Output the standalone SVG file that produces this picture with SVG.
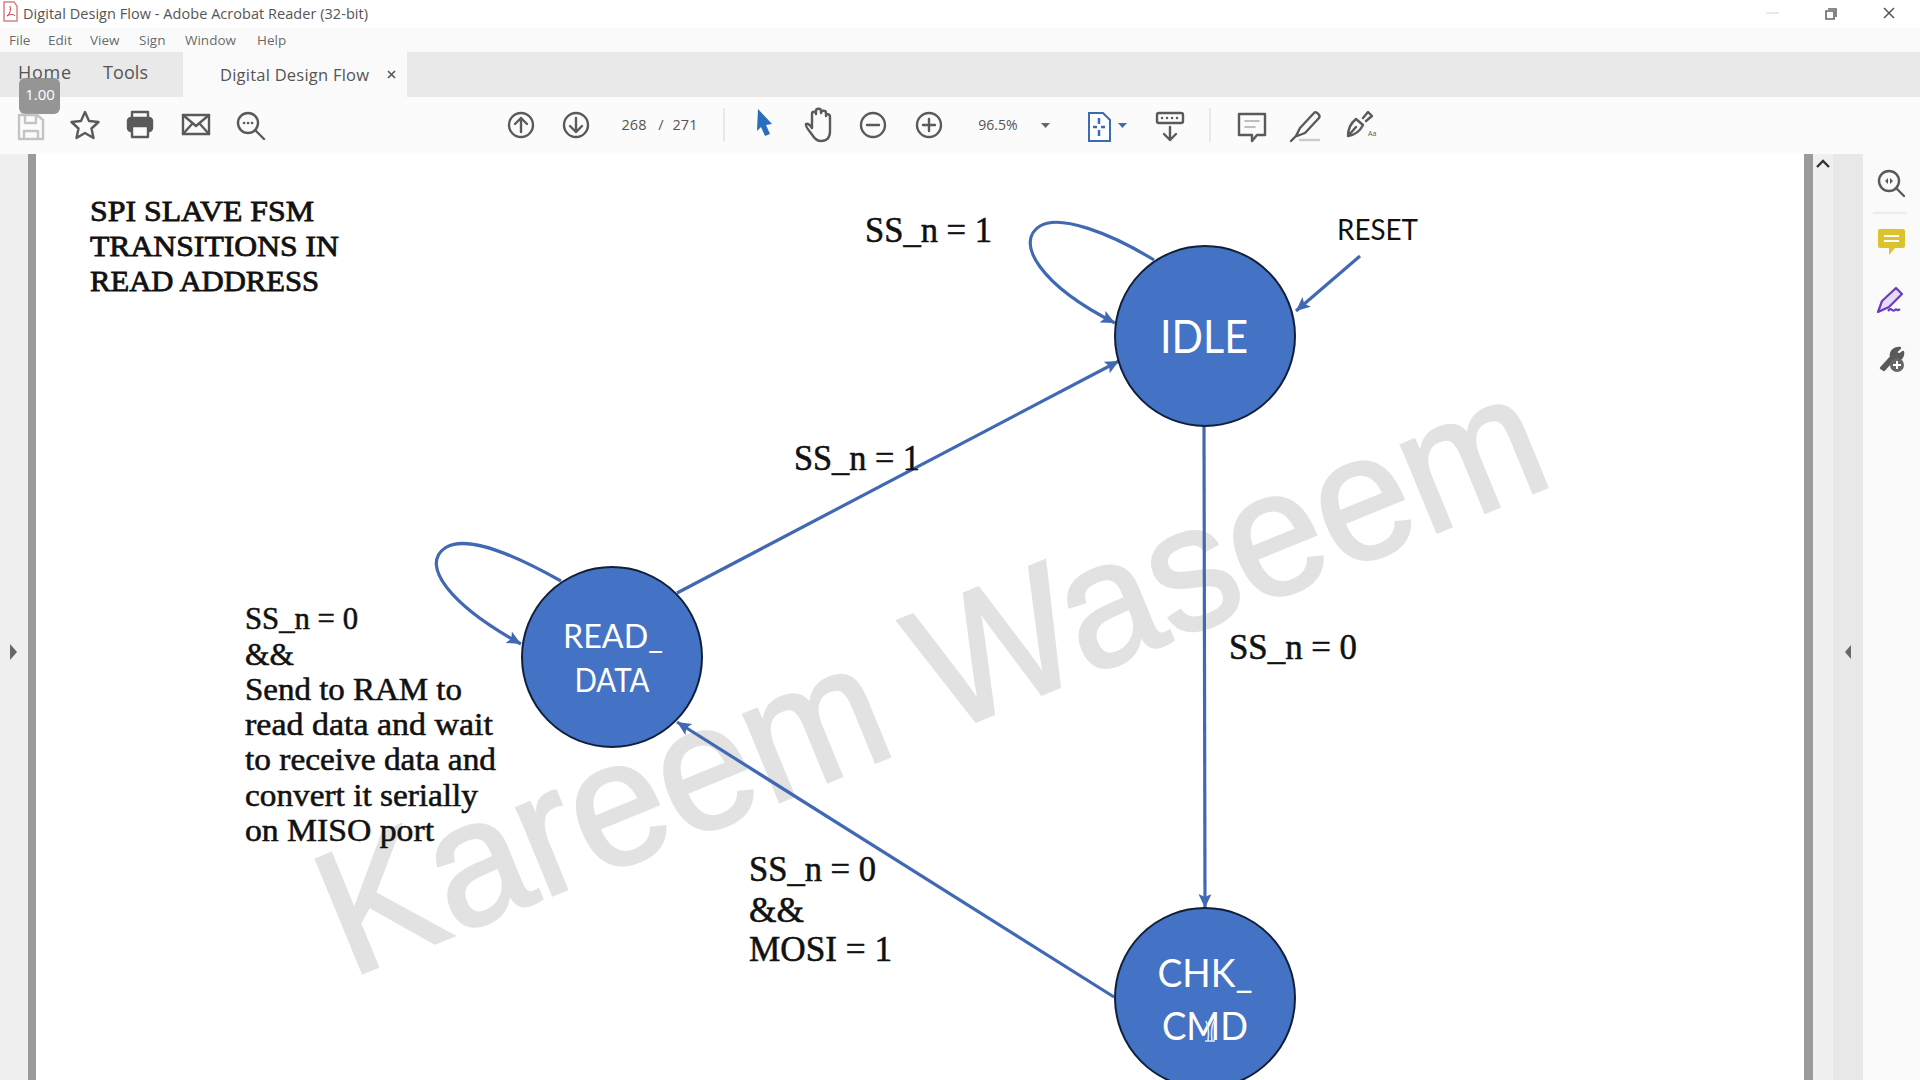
<svg xmlns="http://www.w3.org/2000/svg" width="1920" height="1080" viewBox="0 0 1920 1080">
<style>
.ui{font-family:"Open Sans","Noto Sans",sans-serif;fill:#555}
.pal{font-family:"Liberation Serif",serif;fill:#111;stroke:#111;stroke-width:.55}
.ttl{font-size:30px;stroke-width:.8}
.lbl{font-size:36px}
.body{font-size:31px}
.st{fill:#4472c4;stroke:#10203a;stroke-width:2}
.nt{font-family:Lato,"Open Sans",sans-serif;fill:#fff;text-anchor:middle}
.c{fill:none;stroke:#4169b3;stroke-width:3.2}
.i{fill:none;stroke:#5a5a5a;stroke-width:2.4;stroke-linecap:round;stroke-linejoin:round}
</style>
<defs>
<marker id="a" markerUnits="userSpaceOnUse" markerWidth="16" markerHeight="14" refX="14" refY="6.5" orient="auto"><path d="M0 0L14 6.5L0 13L3 6.5Z" fill="#4169b3"/></marker>
</defs>
<rect width="1920" height="1080" fill="#fff"/>
<g id="chrome">
<rect y="28" width="1920" height="24" fill="#fafafa"/>
<rect y="52" width="1920" height="45" fill="#e9e9e9"/>
<rect x="183" y="52" width="224" height="45" fill="#fafafa"/>
<rect y="97" width="1920" height="57" fill="#fbfbfb"/>
<rect y="154" width="28" height="926" fill="#efefef"/>
<rect x="28" y="154" width="8" height="926" fill="#9b9b9b"/>
<rect x="1804" y="154" width="9" height="926" fill="#9b9b9b"/>
<rect x="1813" y="154" width="20" height="926" fill="#f0f0f0"/>
<rect x="1833" y="154" width="30" height="926" fill="#e8e8e8"/>
<rect x="1863" y="154" width="57" height="926" fill="#fafafa"/>
<path d="M10 644L17 652L10 660Z" fill="#666"/>
<path d="M1851 645L1845 652L1851 659Z" fill="#666"/>
<path d="M1817 167L1823 161L1829 167" fill="none" stroke="#333" stroke-width="2.4"/>
<path d="M4 2h10l3 4v15H4Z" fill="#fff" stroke="#d8808a" stroke-width="1.5"/>
<path d="M7 16c3-2 4-6 3-10M7 16c3-2 7-2 8 0" fill="none" stroke="#c8303a" stroke-width="1"/>
<text class="ui" x="23" y="19" font-size="14.5" textLength="345">Digital Design Flow - Adobe Acrobat Reader (32-bit)</text>
<text class="ui" font-size="13.5" y="45" fill-opacity=".9"><tspan x="9">File</tspan><tspan x="48">Edit</tspan><tspan x="90">View</tspan><tspan x="139">Sign</tspan><tspan x="185">Window</tspan><tspan x="257">Help</tspan></text>
<text class="ui" x="18" y="79" font-size="18" textLength="53">Home</text>
<text class="ui" x="103" y="79" font-size="18" textLength="45">Tools</text>
<text class="ui" x="220" y="81" font-size="16.5" textLength="149">Digital Design Flow</text>
<path d="M388 71l7 7M395 71l-7 7" stroke="#555" stroke-width="1.6"/>
<rect x="19" y="78" width="41" height="36" rx="6" fill="#8c8c8c" fill-opacity=".92"/>
<text x="40" y="100" font-family="Open Sans,sans-serif" font-size="15" fill="#fff" text-anchor="middle">1.00</text>
<path d="M1766 13h13" stroke="#ddd" stroke-width="1.2"/>
<path d="M1826 11h8v8h-8ZM1828 9h8v8" fill="none" stroke="#666" stroke-width="1.6"/>
<path d="M1884 8l10 10M1894 8l-10 10" stroke="#555" stroke-width="1.5"/>
<g class="i">
<path d="M19 115h18l6 5v19H19ZM25 115v8h11v-8M24 139v-8h14v8" stroke="#c4c4c4"/>
<path d="M85 112l4 9 9.500 1-7 6.500 2 9.500-8.500-5-8.500 5 2-9.500-7-6.500 9.500-1Z"/>
<rect x="128" y="118" width="24" height="13" rx="3" fill="#5a5a5a"/>
<rect x="132" y="112" width="16" height="7"/>
<rect x="132" y="126" width="16" height="11" fill="#fbfbfb"/>
<rect x="183" y="115" width="26" height="19"/>
<path d="M183 115l13 11 13-11M183 134l9-10M209 134l-9-10"/>
<circle cx="248" cy="123" r="10"/><path d="M255 130l9 9"/>
<path d="M244 123h.1M248 123h.1M252 123h.1" stroke-width="2.6"/>
<circle cx="521" cy="125" r="12"/><path d="M521 132v-14M515 124l6-6 6 6"/>
<circle cx="576" cy="125" r="12"/><path d="M576 118v14M570 126l6 6 6-6"/>
<path d="M813 136c-4-6-8-9-7-12 2-1 4 1 6 4v-14c0-3 4-3 4 0v-3c0-3 5-3 5 0v2c0-3 5-3 5 0v3c0-3 4-2 4 1v14c0 8-4 10-9 10-4 0-6-2-8-5Z"/>
<circle cx="873" cy="125" r="12"/><path d="M867 125h12"/>
<circle cx="929" cy="125" r="12"/><path d="M923 125h12M929 119v12"/>
<rect x="1157" y="113" width="26" height="10" rx="2"/>
<path d="M1162 118h.1M1167 118h.1M1172 118h.1M1177 118h.1M1170 127v13M1164 134l6 6 6-6"/>
<path d="M1239 114h26v21h-8l-5 6v-6h-13Z"/><path d="M1245 121h14M1245 127h10" stroke-width="1.6" stroke="#aaa"/>
<path d="M1296 136l4-8 14-15c2-2 7 2 5 5l-14 15-8 3ZM1291 141l5-5"/><path d="M1300 140h19" stroke="#ccc"/>
<path d="M1348 136c0-8 3-13 8-17l7 6c-3 6-8 10-15 11ZM1363 118l5-6 4 4-6 5M1356 127l-8 9"/>
<circle cx="1889" cy="181" r="10"/><path d="M1896 188l8 8"/>
<path d="M1885 181l3-3v6ZM1893 181l-3-3v6Z" fill="#5a5a5a" stroke="none"/>
<path d="M1881 368l10-11c-1-5 3-10 9-9l-4 4 3 3 4-3c1 6-5 10-10 8l-9 10Z" fill="#5a5a5a"/>
</g>
<text x="1368" y="136" font-family="Open Sans,sans-serif" font-size="7" fill="#555">Aa</text>
<circle cx="1897" cy="365" r="7" fill="#666"/>
<path d="M1893 365h8M1897 361v8" stroke="#fff" stroke-width="2"/>
<path d="M758 109l14 15-6 1 4 9-5 2-4-9-4 4Z" fill="#2a6ebb"/>
<text class="ui" x="634" y="130" font-size="14.5" text-anchor="middle" fill="#777">268</text>
<text class="ui" x="661" y="130" font-size="14.5" text-anchor="middle" fill="#666">/</text>
<text class="ui" x="685" y="130" font-size="14.5" text-anchor="middle" fill="#666">271</text>
<path d="M724 108v34M1210 108v34" stroke="#ddd" stroke-width="1.2"/>
<text class="ui" x="998" y="130" font-size="14" text-anchor="middle" fill="#777">96.5%</text>
<path d="M1041 123h9l-4.500 5Z" fill="#666"/>
<path d="M1089 113h14l7 7v21h-21Z" fill="#fff" stroke="#3a6cb5" stroke-width="2"/>
<path d="M1099 118v6M1099 130v6M1093 127h4M1101 127h4" stroke="#3a6cb5" stroke-width="2.500"/>
<path d="M1118 123h9l-4.500 5Z" fill="#3a6cb5"/>
<path d="M1873 213h34" stroke="#ddd" stroke-width="1.200"/>
<path d="M1880 229h23a2 2 0 0 1 2 2v15a2 2 0 0 1-2 2h-8l-6 7v-7h-9a2 2 0 0 1-2-2v-15a2 2 0 0 1 2-2Z" fill="#dcc32b"/>
<path d="M1884 236h15M1884 241h15" stroke="#fff" stroke-width="2"/>
<path d="M1878 312l4-11 14-13 6 6-13 13-11 5ZM1888 311c4-5 4 2 7-1 2-2 2 2 5-1" fill="#e4dcf5" stroke="#6a3cc0" stroke-width="2.200" stroke-linejoin="round"/>
</g>
<g id="watermark"><text x="350" y="978" transform="rotate(-22.300 350 978)" font-family="Liberation Sans,sans-serif" font-size="178" fill="#e2e2e2" stroke="#e2e2e2" stroke-width="3" textLength="1305" lengthAdjust="spacingAndGlyphs">Kareem Waseem</text></g>
<g id="connectors">
<path class="c" marker-end="url(#a)" d="M1154 260C1110 233 1060 214 1040 226C1014 242 1040 285 1115 323"/>
<path class="c" marker-end="url(#a)" d="M1360 256L1296 311"/>
<path class="c" marker-end="url(#a)" d="M677 593L1119 361"/>
<path class="c" marker-end="url(#a)" d="M1204 426L1205 908"/>
<path class="c" marker-end="url(#a)" d="M1114 997L677 722"/>
<path class="c" marker-end="url(#a)" d="M561 581C520 558 468 533 445 548C420 565 450 605 521 644"/>
</g>
<g id="node-idle"><circle class="st" cx="1205" cy="336" r="90"/><text class="nt" x="1204" y="353" font-size="46" textLength="88" lengthAdjust="spacingAndGlyphs">IDLE</text></g>
<g id="node-read-data"><circle class="st" cx="612" cy="657" r="90"/><text class="nt" x="613" y="648" font-size="33" textLength="100" lengthAdjust="spacingAndGlyphs">READ_</text><text class="nt" x="612" y="692" font-size="33" textLength="75" lengthAdjust="spacingAndGlyphs">DATA</text></g>
<g id="node-chk-cmd"><circle class="st" cx="1205" cy="998" r="90"/><text class="nt" x="1205" y="987" font-size="39" textLength="95" lengthAdjust="spacingAndGlyphs">CHK_</text><text class="nt" x="1205" y="1040" font-size="39" textLength="86" lengthAdjust="spacingAndGlyphs">CMD</text></g>
<path d="M1206 1021c3 6 3 12 2 20M1214 1021c-3 6-3 12-2 20M1205 1041h10" fill="none" stroke="#dfe8f5" stroke-width="1.600"/>
<g id="labels">
<text class="pal ttl" x="90" y="221" textLength="224" lengthAdjust="spacingAndGlyphs">SPI SLAVE FSM</text>
<text class="pal ttl" x="90" y="256" textLength="249" lengthAdjust="spacingAndGlyphs">TRANSITIONS IN</text>
<text class="pal ttl" x="90" y="291" textLength="229" lengthAdjust="spacingAndGlyphs">READ ADDRESS</text>
<text class="pal lbl" x="865" y="242" textLength="127" lengthAdjust="spacingAndGlyphs">SS_n = 1</text>
<text x="1337" y="240" font-family="Lato,sans-serif" font-size="29" fill="#111" textLength="81" lengthAdjust="spacingAndGlyphs">RESET</text>
<text class="pal lbl" x="794" y="470" textLength="126" lengthAdjust="spacingAndGlyphs">SS_n = 1</text>
<text class="pal lbl" x="1229" y="659" textLength="128" lengthAdjust="spacingAndGlyphs">SS_n = 0</text>
<text class="pal body" x="245" y="629" textLength="113" lengthAdjust="spacingAndGlyphs">SS_n = 0</text>
<text class="pal body" x="245" y="665" textLength="49" lengthAdjust="spacingAndGlyphs">&amp;&amp;</text>
<text class="pal body" x="245" y="700" textLength="217" lengthAdjust="spacingAndGlyphs">Send to RAM to</text>
<text class="pal body" x="245" y="735" textLength="248" lengthAdjust="spacingAndGlyphs">read data and wait</text>
<text class="pal body" x="245" y="770" textLength="251" lengthAdjust="spacingAndGlyphs">to receive data and</text>
<text class="pal body" x="245" y="806" textLength="233" lengthAdjust="spacingAndGlyphs">convert it serially</text>
<text class="pal body" x="245" y="841" textLength="189" lengthAdjust="spacingAndGlyphs">on MISO port</text>
<text class="pal lbl" x="749" y="881" textLength="127" lengthAdjust="spacingAndGlyphs">SS_n = 0</text>
<text class="pal lbl" x="749" y="922" textLength="55" lengthAdjust="spacingAndGlyphs">&amp;&amp;</text>
<text class="pal lbl" x="749" y="961" textLength="143" lengthAdjust="spacingAndGlyphs">MOSI = 1</text>
</g>
</svg>
